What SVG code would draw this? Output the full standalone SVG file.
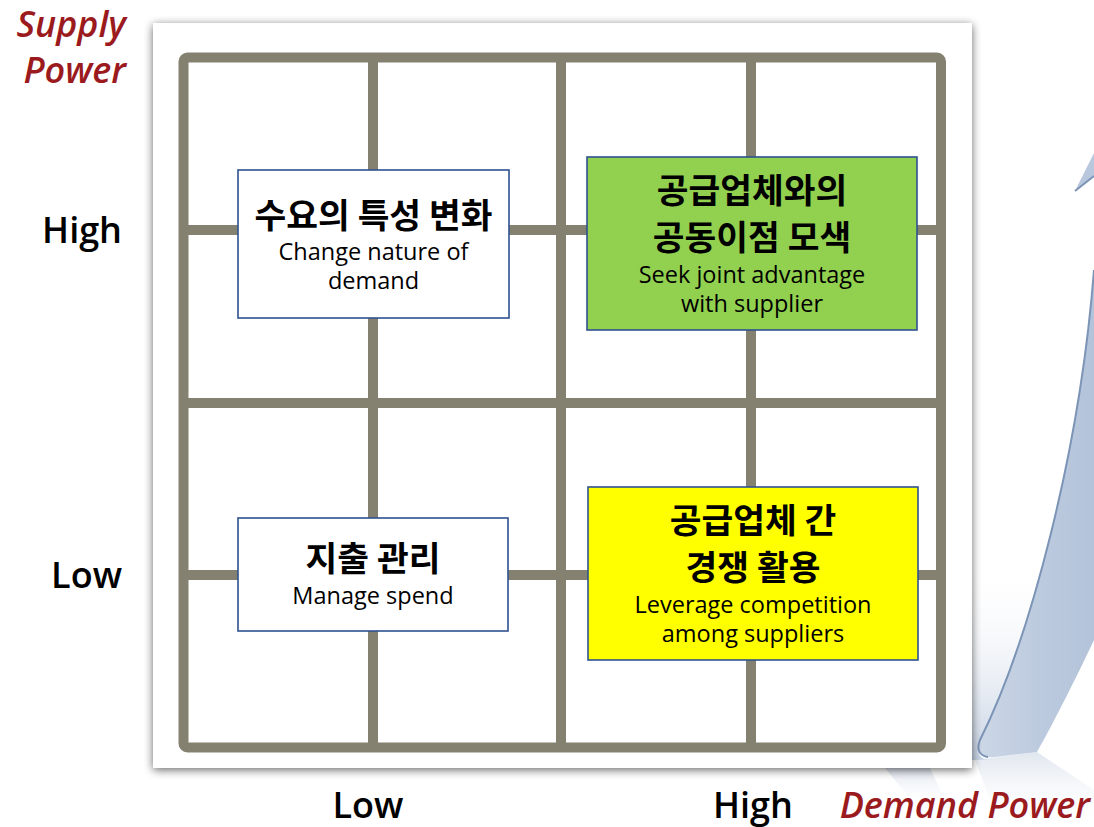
<svg xmlns="http://www.w3.org/2000/svg" width="1094" height="827" viewBox="0 0 1094 827">
  <defs>
    <style>
      .grid { fill: none; stroke: #858170; stroke-width: 10; stroke-linecap: butt; }
      .box { stroke: #2F5290; stroke-width: 1.6; }
      .ko { font-family: "Noto Sans CJK KR", "Open Sans", sans-serif; font-weight: 700; font-size: 34.5px; fill: #000; text-anchor: middle; }
      .en { font-family: "Open Sans", "Noto Sans", "Noto Sans CJK KR", sans-serif; font-size: 23.5px; fill: #000; text-anchor: middle; }
      .axis { font-family: "Open Sans", "Noto Sans", sans-serif; font-weight: 600; font-size: 36px; fill: #000; }
      .power { font-family: "Open Sans", "Noto Sans", sans-serif; font-style: italic; font-weight: 600; font-size: 36px; fill: #9B1A1E; }
    </style>
    <filter id="panelShadow" x="-5%" y="-5%" width="110%" height="110%">
      <feGaussianBlur in="SourceAlpha" stdDeviation="5"/>
      <feOffset dx="0" dy="2" result="b"/>
      <feComponentTransfer>
        <feFuncA type="linear" slope="0.6"/>
      </feComponentTransfer>
      <feMerge>
        <feMergeNode/>
        <feMergeNode in="SourceGraphic"/>
      </feMerge>
    </filter>
    <linearGradient id="ribbonFront" x1="0" y1="0" x2="1" y2="0">
      <stop offset="0" stop-color="#CCD7E6"/>
      <stop offset="0.5" stop-color="#BDCBDF"/>
      <stop offset="1" stop-color="#B3C3D9"/>
    </linearGradient>
    <linearGradient id="ribbonBack" x1="0" y1="0" x2="0" y2="1">
      <stop offset="0" stop-color="#FFFFFF" stop-opacity="0"/>
      <stop offset="1" stop-color="#C6D2E3"/>
    </linearGradient>
    <linearGradient id="ribbonReflect" x1="0" y1="0" x2="0" y2="1">
      <stop offset="0" stop-color="#D3DCE8"/>
      <stop offset="1" stop-color="#FFFFFF" stop-opacity="0"/>
    </linearGradient>
  </defs>

  <rect width="1094" height="827" fill="#FFFFFF"/>

  <!-- decorative swoosh behind the matrix panel -->
  <g id="swoosh">
    <path d="M 960 560 L 1040 560 C 1020 650, 1000 700, 980 740 C 975 752, 980 760, 990 760 L 960 760 Z" fill="url(#ribbonBack)"/>
    <path d="M 975 760 L 1037 752 L 1094 790 L 1094 827 L 1000 827 Z" fill="url(#ribbonReflect)" opacity="0.7"/>
    <path d="M 885 768 L 930 768 L 945 800 L 915 805 Z" fill="url(#ribbonReflect)" opacity="0.8"/>
    <path d="M 1094 270 C 1080 450, 1030 640, 980 740 C 975 752, 982 759, 995 757 L 1037 752 C 1055 720, 1075 680, 1094 640 Z" fill="url(#ribbonFront)"/>
    <path d="M 1094 270 C 1080 450, 1030 640, 980 740 C 976 750, 980 756, 988 757" fill="none" stroke="#7C94B6" stroke-width="2"/>
    <path d="M 1075 191 L 1094 153 L 1094 176 Z" fill="#B8C7DB"/>
    <path d="M 1075 191 L 1094 176" fill="none" stroke="#7C94B6" stroke-width="2"/>
  </g>

  <!-- matrix panel -->
  <rect id="panel" x="153" y="23" width="819" height="745" fill="#FFFFFF" filter="url(#panelShadow)"/>

  <g id="grid">
    <rect class="grid" x="183.5" y="57.5" width="757.5" height="690" rx="4"/>
    <line class="grid" x1="373" y1="57.5" x2="373" y2="747.5"/>
    <line class="grid" x1="561" y1="57.5" x2="561" y2="747.5"/>
    <line class="grid" x1="751" y1="57.5" x2="751" y2="747.5"/>
    <line class="grid" x1="183.5" y1="230" x2="941" y2="230"/>
    <line class="grid" x1="183.5" y1="403" x2="941" y2="403"/>
    <line class="grid" x1="183.5" y1="575" x2="941" y2="575"/>
  </g>

  <g id="node-change-demand">
    <rect class="box" x="238" y="170" width="271" height="148" fill="#FFFFFF"/>
    <text class="ko" x="373.5" y="228">수요의 특성 변화</text>
    <text class="en" x="373.5" y="260">Change nature of</text>
    <text class="en" x="373.5" y="289">demand</text>
  </g>

  <g id="node-joint-advantage">
    <rect class="box" x="587" y="157" width="330" height="173" fill="#92D050"/>
    <text class="ko" x="752" y="203">공급업체와의</text>
    <text class="ko" x="752" y="250">공동이점 모색</text>
    <text class="en" x="752" y="283">Seek joint advantage</text>
    <text class="en" x="752" y="312">with supplier</text>
  </g>

  <g id="node-manage-spend">
    <rect class="box" x="238" y="518" width="270" height="113" fill="#FFFFFF"/>
    <text class="ko" x="373" y="571">지출 관리</text>
    <text class="en" x="373" y="604">Manage spend</text>
  </g>

  <g id="node-leverage-competition">
    <rect class="box" x="588" y="487" width="330" height="173" fill="#FFFF00"/>
    <text class="ko" x="753" y="533">공급업체 간</text>
    <text class="ko" x="753" y="580">경쟁 활용</text>
    <text class="en" x="753" y="613">Leverage competition</text>
    <text class="en" x="753" y="642">among suppliers</text>
  </g>

  <g id="connectors"/>

  <!-- axis labels -->
  <g id="axis-labels">
    <text class="power" x="126" y="37" text-anchor="end">Supply</text>
    <text class="power" x="126" y="83" text-anchor="end">Power</text>
    <text class="axis" x="122" y="243" text-anchor="end">High</text>
    <text class="axis" x="122" y="588" text-anchor="end">Low</text>
    <text class="axis" x="368" y="818" text-anchor="middle">Low</text>
    <text class="axis" x="753" y="818" text-anchor="middle">High</text>
    <text class="power" x="1090" y="818" text-anchor="end">Demand Power</text>
  </g>
</svg>
